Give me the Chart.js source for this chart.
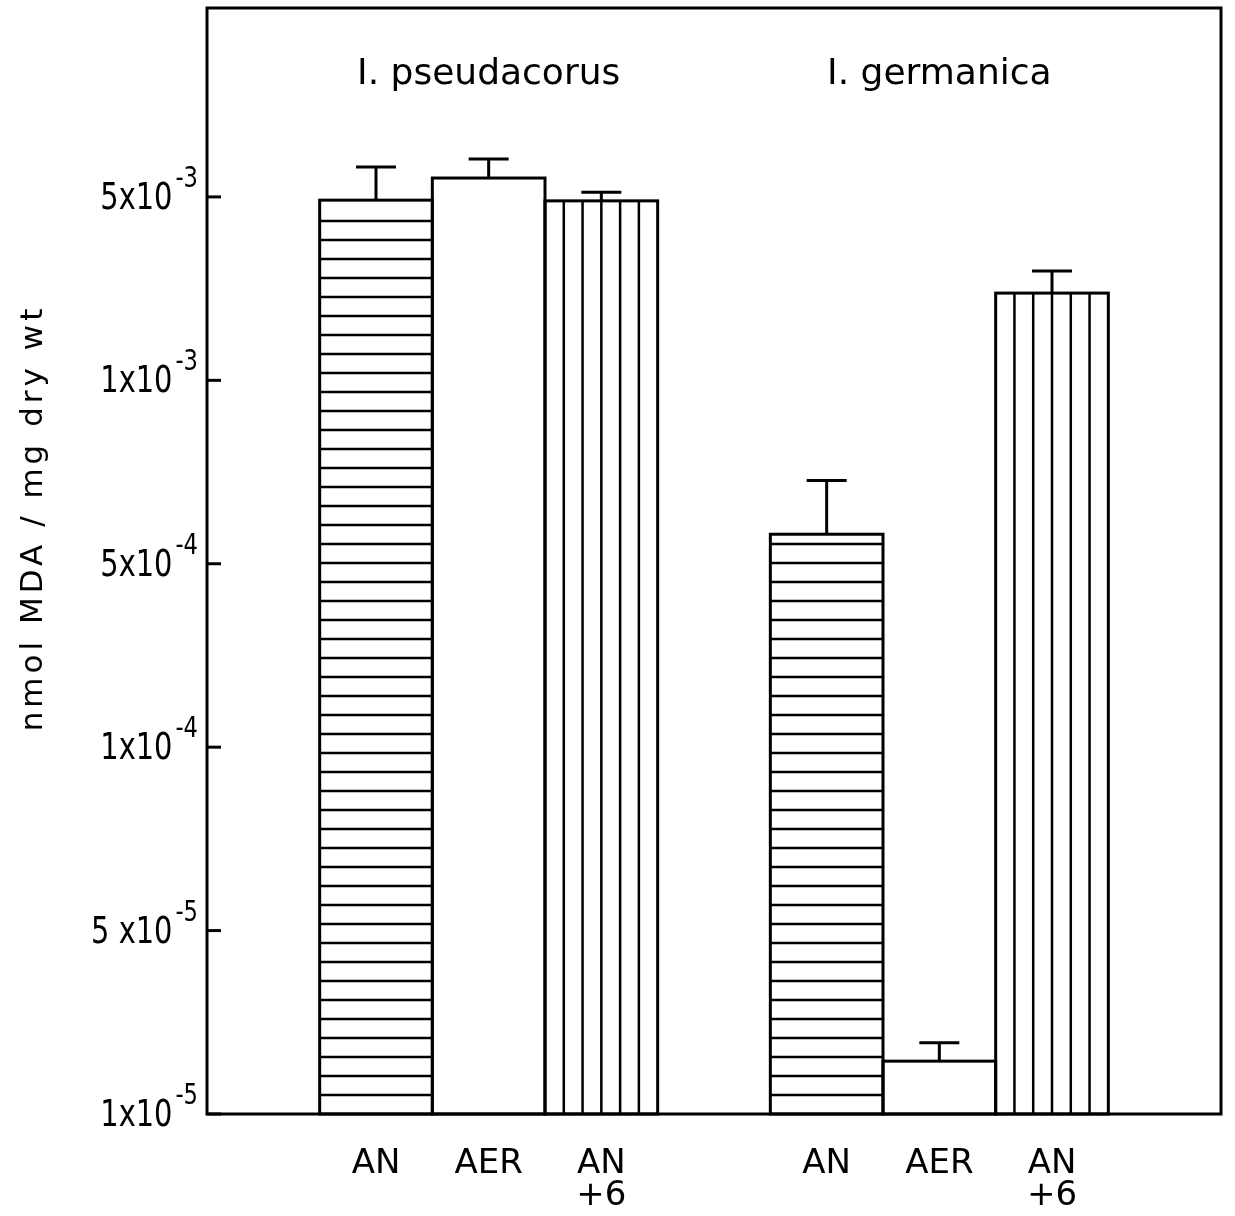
<!DOCTYPE html>
<html>
<head>
<meta charset="utf-8">
<script src="https://cdn.jsdelivr.net/npm/chart.js@4.4.1/dist/chart.umd.min.js"></script>
<style>
  html, body { margin: 0; padding: 0; background: #fff; }
  #wrap { width: 1235px; height: 1216px; }
</style>
</head>
<body>
<div id="wrap"><canvas id="chart" width="1235" height="1216"></canvas></div>
<script>
// slots vazios deixam o espaço entre as duas espécies
const categorias = ["", "AN", "AER", ["AN", "+6"], "", "AN", "AER", ["AN", "+6"], ""];
const especies = ["I. pseudacorus", "I. germanica"];
const especieSlot = [2, 6];

// nmol MDA / mg dry wt
const valores = [null, 4.86e-3, 5.37e-3, 4.83e-3, null, 5.59e-4, 1.59e-5, 2.15e-3, null];
const erros   = [null, 0.74e-3, 0.40e-3, 0.26e-3, null, 1.26e-4, 0.28e-5, 0.46e-3, null];
const hachura = [null, "h", "none", "v", null, "h", "none", "v", null];

// eixo y: os ticks ficam igualmente espaçados (1e-2 só serve para extrapolar)
const tickValores = [1e-5, 5e-5, 1e-4, 5e-4, 1e-3, 5e-3, 1e-2];
const tickBase = ["1x10", "5 x10", "1x10", "5x10", "1x10", "5x10"];
const tickExp = ["-5", "-5", "-4", "-4", "-3", "-3"];

function posicao(v) {
  if (v == null) return null;
  for (let i = 0; i < tickValores.length - 1; i++) {
    const a = tickValores[i], b = tickValores[i + 1];
    if (v < b || i === tickValores.length - 2) return i + Math.log(v / a) / Math.log(b / a);
  }
}

const desenhoPlugin = {
  id: "desenho",
  afterDatasetsDraw(chart) {
    const ctx = chart.ctx;
    const area = chart.chartArea;
    const y = chart.scales.y;
    const meta = chart.getDatasetMeta(0);
    ctx.save();
    ctx.strokeStyle = "#000";
    ctx.fillStyle = "#000";

    meta.data.forEach((bar, i) => {
      if (valores[i] == null) return;
      const p = bar.getProps(["x", "y", "base", "width"], true);
      const left = p.x - p.width / 2, right = p.x + p.width / 2;
      ctx.lineWidth = 2.5;
      ctx.beginPath();
      if (hachura[i] === "h") {
        for (let yy = p.base - 19; yy > p.y + 8; yy -= 19) {
          ctx.moveTo(left, yy);
          ctx.lineTo(right, yy);
        }
      } else if (hachura[i] === "v") {
        for (let k = 1; k < 6; k++) {
          const xx = left + k * p.width / 6;
          ctx.moveTo(xx, p.y);
          ctx.lineTo(xx, p.base);
        }
      }
      ctx.stroke();
      ctx.lineWidth = 3;
      ctx.strokeRect(left, p.y, p.width, p.base - p.y);

      // barra de erro (só para cima)
      const topo = y.getPixelForValue(posicao(valores[i] + erros[i]));
      ctx.beginPath();
      ctx.moveTo(p.x, p.y);
      ctx.lineTo(p.x, topo);
      ctx.moveTo(p.x - 20, topo);
      ctx.lineTo(p.x + 20, topo);
      ctx.stroke();
    });

    // moldura
    ctx.lineWidth = 3;
    ctx.strokeRect(area.left, area.top, area.right - area.left, area.bottom - area.top);

    // ticks para dentro + rótulos com expoente
    const esc = 0.78;
    tickBase.forEach((txt, i) => {
      const py = y.getPixelForValue(i);
      ctx.lineWidth = 3;
      ctx.beginPath();
      ctx.moveTo(area.left, py);
      ctx.lineTo(area.left + 14, py);
      ctx.stroke();

      ctx.save();
      ctx.scale(esc, 1);
      ctx.textAlign = "right";
      ctx.textBaseline = "alphabetic";
      ctx.font = "29px 'DejaVu Sans'";
      const wExp = ctx.measureText(tickExp[i]).width * esc;
      ctx.fillText(tickExp[i], 198 / esc, py - 10);
      ctx.font = "37px 'DejaVu Sans'";
      ctx.fillText(txt, (198 - wExp - 3) / esc, py + 12);
      ctx.restore();
    });

    // nomes das espécies
    ctx.font = "36px 'DejaVu Sans'";
    ctx.textAlign = "center";
    ctx.textBaseline = "alphabetic";
    especies.forEach((nome, k) => {
      const px = chart.scales.x.getPixelForValue(especieSlot[k]);
      ctx.fillText(nome, px, 84);
    });

    // título do eixo y
    ctx.save();
    ctx.translate(42, 518);
    ctx.rotate(-Math.PI / 2);
    ctx.font = "31px 'DejaVu Sans'";
    ctx.letterSpacing = "4px";
    ctx.textAlign = "center";
    ctx.textBaseline = "alphabetic";
    ctx.fillText("nmol MDA / mg dry wt", 0, 0);
    ctx.restore();

    ctx.restore();
  }
};

new Chart(document.getElementById("chart"), {
  type: "bar",
  data: {
    labels: categorias,
    datasets: [{
      data: valores.map(posicao),
      backgroundColor: "#fff",
      borderWidth: 0,
      barPercentage: 1,
      categoryPercentage: 1
    }]
  },
  options: {
    responsive: false,
    animation: false,
    devicePixelRatio: 1,
    layout: { padding: { left: 0, top: 8, right: 14, bottom: 0 } },
    plugins: { legend: { display: false }, tooltip: { enabled: false } },
    scales: {
      x: {
        grid: { display: false, drawTicks: false },
        border: { display: false },
        ticks: {
          color: "#000",
          padding: 34,
          maxRotation: 0,
          autoSkip: false,
          font: { family: "DejaVu Sans", size: 34, lineHeight: 0.95 }
        },
        afterFit(scale) { scale.height = 102; }
      },
      y: {
        min: 0,
        max: 6.03,
        grid: { display: false, drawTicks: false },
        border: { display: false },
        ticks: { display: false },
        afterFit(scale) { scale.width = 207; }
      }
    }
  },
  plugins: [desenhoPlugin]
});
</script>
</body>
</html>
